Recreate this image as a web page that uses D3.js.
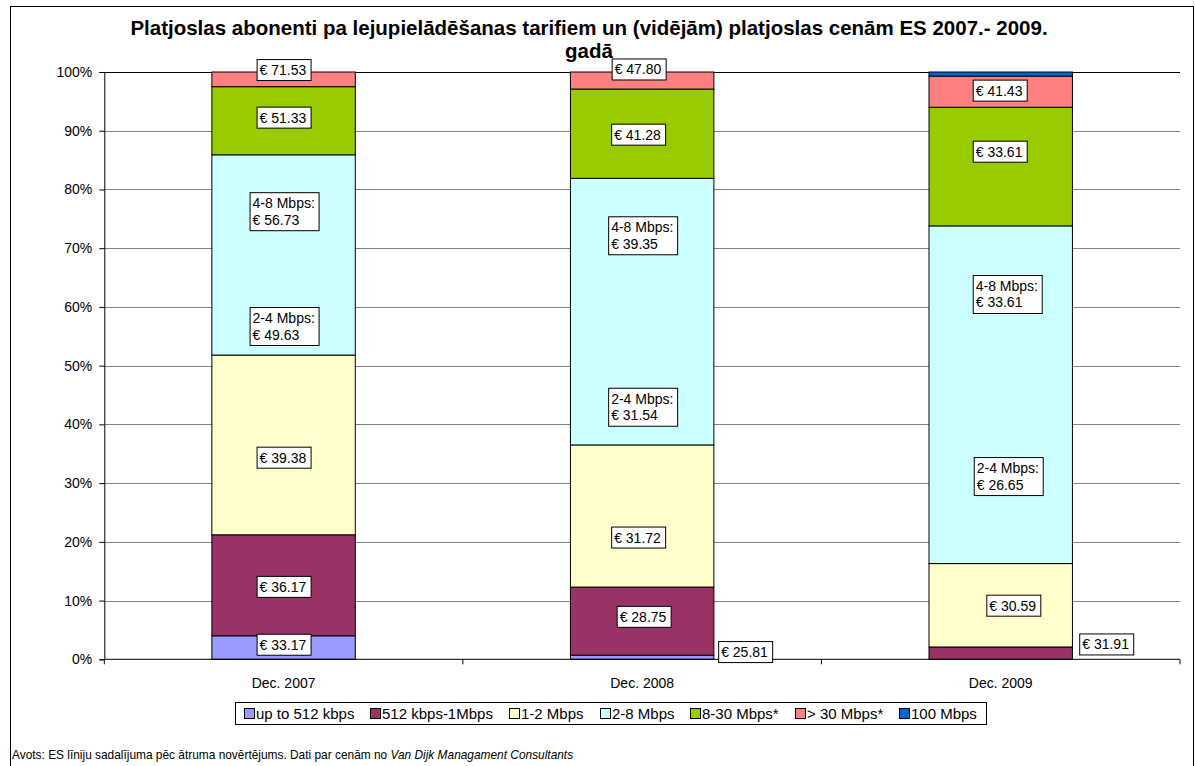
<!DOCTYPE html>
<html lang="lv">
    <head>
        <meta charset="utf-8">
        <title>Platjoslas abonenti pa lejupielādēšanas tarifiem</title>
        <script type="text/javascript" src="https://d3js.org/d3.v7.min.js"></script>
        <style type="text/css">
            body { margin: 0; background: #fff; }
            text { font-family: "Liberation Sans", Arial, sans-serif; }
        </style>
    </head>
    <body>
        <script type="text/javascript">
            //Data: share of subscribers (%) per speed band
            var categories = ["Dec. 2007", "Dec. 2008", "Dec. 2009"];
            var seriesNames = ["up to 512 kbps", "512 kbps-1Mbps", "1-2 Mbps", "2-8 Mbps", "8-30 Mbps*", "> 30 Mbps*", "100 Mbps"];
            var share2007 = [4.0, 17.2, 30.6, 34.1, 11.6, 2.5, 0];
            var share2008 = [0.7, 11.6, 24.2, 45.4, 15.2, 2.9, 0];
            var share2009 = [0, 2.1, 14.2, 57.5, 20.2, 5.3, 0.7];
            var yTickValues = [0, 10, 20, 30, 40, 50, 60, 70, 80, 90, 100];

            //Average price labels, bottom to top
            var prices2007 = ["€ 33.17", "€ 36.17", "€ 39.38", "2-4 Mbps:|€ 49.63", "4-8 Mbps:|€ 56.73", "€ 51.33", "€ 71.53"];
            var prices2008 = ["€ 25.81", "€ 28.75", "€ 31.72", "2-4 Mbps:|€ 31.54", "4-8 Mbps:|€ 39.35", "€ 41.28", "€ 47.80"];
            var prices2009 = ["€ 31.91", "€ 30.59", "2-4 Mbps:|€ 26.65", "4-8 Mbps:|€ 33.61", "€ 33.61", "€ 41.43"];

            var title1 = "Platjoslas abonenti pa lejupielādēšanas tarifiem un (vidējām) platjoslas cenām ES 2007.- 2009.";
            var title2 = "gadā";
            var sourceText = "Avots: ES līniju sadalījuma pēc ātruma novērtējums. Dati par cenām no ";
            var sourceItalic = "Van Dijk Managament Consultants";

            //Styles and label placement (where each price box sits, in % and px from bar centre)
            var colors = ["#9999FF", "#993366", "#FFFFCC", "#CCFFFF", "#99CC00", "#FF8080", "#0066CC"];
            var place2007 = [[2.65, 0], [12.5, 0], [34.5, 0], [56.75, 0], [76.3, 0], [92.4, 0], [100.5, 0]];
            var place2008 = [[1.4, 103], [7.4, 1.5], [20.9, -4], [43.0, 0], [72.2, 0], [89.5, -4], [100.6, -3.5]];
            var place2009 = [[2.7, 105.5], [9.3, 12.6], [31.2, 7], [62.2, 6], [86.6, -1], [97.0, -1]];

            var w = 1195;
            var h = 766;
            var plot = { left: 104.3, right: 1180, top: 72, bottom: 659.3 };

            var shares = [share2007, share2008, share2009];
            var table = categories.map(function(c, i) {
                var row = { cat: c };
                seriesNames.forEach(function(s, j) { row[s] = shares[i][j]; });
                return row;
            });

            var svg = d3.select("body")
                        .append("svg")
                        .attr("width", w)
                        .attr("height", h);

            //Outer chart border
            svg.append("rect")
               .attr("x", 10.5).attr("y", 6.5)
               .attr("width", 1183).attr("height", 770)
               .attr("fill", "none").attr("stroke", "#000").attr("stroke-width", 1);

            var x = d3.scaleBand()
                      .domain(categories)
                      .range([plot.left, plot.right])
                      .paddingInner(0.6)
                      .paddingOuter(0.3);

            var y = d3.scaleLinear()
                      .domain([0, 100])
                      .range([plot.bottom, plot.top]);

            //Gridlines
            svg.append("g")
               .selectAll("line")
               .data(yTickValues.slice(1))
               .enter()
               .append("line")
               .attr("x1", plot.left).attr("x2", plot.right)
               .attr("y1", function(d) { return Math.round(y(d)) + 0.5; })
               .attr("y2", function(d) { return Math.round(y(d)) + 0.5; })
               .attr("stroke", function(d) { return d === 100 ? "#000" : "#808080"; });

            //Stacked bars
            var stack = d3.stack().keys(seriesNames)(table);
            svg.append("g")
               .selectAll("g")
               .data(stack)
               .enter()
               .append("g")
               .attr("fill", function(d, i) { return colors[i]; })
               .selectAll("rect")
               .data(function(d) { return d.filter(function(p) { return p[1] - p[0] > 0; }); })
               .enter()
               .append("rect")
               .attr("x", function(d) { return x(d.data.cat); })
               .attr("y", function(d) { return y(d[1]); })
               .attr("width", x.bandwidth())
               .attr("height", function(d) { return y(d[0]) - y(d[1]); })
               .attr("stroke", "#000")
               .attr("stroke-width", 1);

            //Y axis
            var yAxis = d3.axisLeft(y)
                          .tickValues(yTickValues)
                          .tickSize(5)
                          .tickPadding(7)
                          .tickFormat(function(d) { return d + "%"; });
            var gy = svg.append("g")
                        .attr("transform", "translate(" + plot.left + ",0)")
                        .call(yAxis);
            gy.selectAll("text").attr("font-size", "14px").attr("font-family", null).attr("fill", "#000");
            gy.selectAll("line").attr("stroke", "#000");
            gy.select(".domain").attr("stroke", "#000");

            //X axis: labels centred, tick marks between categories
            var xAxis = d3.axisBottom(x).tickSize(0).tickPadding(19);
            var gx = svg.append("g")
                        .attr("transform", "translate(0," + plot.bottom + ")")
                        .call(xAxis);
            gx.select(".domain").remove();
            gx.selectAll("text").attr("font-size", "14px").attr("font-family", null).attr("fill", "#000");
            gx.append("line")
              .attr("x1", plot.left).attr("x2", plot.right)
              .attr("stroke", "#000");
            gx.selectAll(".sep")
              .data(d3.range(categories.length + 1))
              .enter()
              .append("line")
              .attr("class", "sep")
              .attr("x1", function(i) { return plot.left + i * x.step(); })
              .attr("x2", function(i) { return plot.left + i * x.step(); })
              .attr("y1", 0).attr("y2", 5)
              .attr("stroke", "#000");

            //Price labels
            var prices = [prices2007, prices2008, prices2009];
            var places = [place2007, place2008, place2009];
            var lineH = 16.5;
            var labelData = [];
            categories.forEach(function(c, i) {
                prices[i].forEach(function(t, j) {
                    labelData.push({ cat: c, lines: t.split("|"), at: places[i][j][0], dx: places[i][j][1] });
                });
            });
            var lab = svg.append("g")
                         .selectAll("g")
                         .data(labelData)
                         .enter()
                         .append("g")
                         .attr("transform", function(d) {
                             return "translate(" + (x(d.cat) + x.bandwidth() / 2 + d.dx) + "," + y(d.at) + ")";
                         });
            lab.append("rect")
               .attr("fill", "#fff")
               .attr("stroke", "#000")
               .attr("stroke-width", 1);
            var txt = lab.append("text")
                         .attr("font-size", "14px")
                         .attr("fill", "#000");
            txt.selectAll("tspan")
               .data(function(d) { return d.lines; })
               .enter()
               .append("tspan")
               .text(function(t) { return t; });
            lab.each(function(d) {
                var g = d3.select(this);
                var t = g.select("text");
                var tw = 0;
                t.selectAll("tspan").each(function() {
                    tw = Math.max(tw, this.getComputedTextLength());
                });
                var bw = Math.round(tw + 7);
                var bh = Math.round(d.lines.length * lineH + 4.5);
                var bx = Math.round(-bw / 2) + 0.5;
                var by = Math.round(-bh / 2) + 0.5;
                g.select("rect").attr("x", bx).attr("y", by).attr("width", bw).attr("height", bh);
                t.selectAll("tspan")
                 .attr("x", bx + 2.5)
                 .attr("y", function(s, k) { return by + 15.5 + k * lineH; });
            });

            //Title
            svg.append("text")
               .attr("x", 589).attr("y", 35)
               .attr("text-anchor", "middle")
               .attr("font-size", "20.5px").attr("font-weight", "bold")
               .text(title1);
            svg.append("text")
               .attr("x", 589).attr("y", 58)
               .attr("text-anchor", "middle")
               .attr("font-size", "20.5px").attr("font-weight", "bold")
               .text(title2);

            //Legend
            var legendG = svg.append("g");
            var legBox = legendG.append("rect")
                                .attr("fill", "#fff").attr("stroke", "#000");
            var legend = legendG.append("g");
            var lx = 0;
            var items = legend.selectAll("g")
                              .data(seriesNames)
                              .enter()
                              .append("g");
            items.append("rect")
                 .attr("width", 10).attr("height", 10)
                 .attr("x", 0.5).attr("y", -10.5)
                 .attr("fill", function(d, i) { return colors[i]; })
                 .attr("stroke", "#000");
            items.append("text")
                 .attr("x", 12)
                 .attr("font-size", "15px")
                 .text(function(d) { return d; });
            items.each(function() {
                var g = d3.select(this);
                g.attr("transform", "translate(" + Math.round(lx) + ",0)");
                lx += 12 + g.select("text").node().getComputedTextLength() + 16;
            });
            var legW = Math.round(lx - 16 + 18);
            var legX = Math.round(610 - legW / 2);
            legend.attr("transform", "translate(" + (legX + 9) + ",719)");
            legBox.attr("x", legX + 0.5).attr("y", 702.5)
                  .attr("width", legW).attr("height", 22);

            //Source note
            var src = svg.append("text")
                         .attr("x", 12).attr("y", 759)
                         .attr("font-size", "11.9px");
            src.append("tspan").text(sourceText);
            src.append("tspan").attr("font-style", "italic").text(sourceItalic);
        </script>
    </body>
</html>
